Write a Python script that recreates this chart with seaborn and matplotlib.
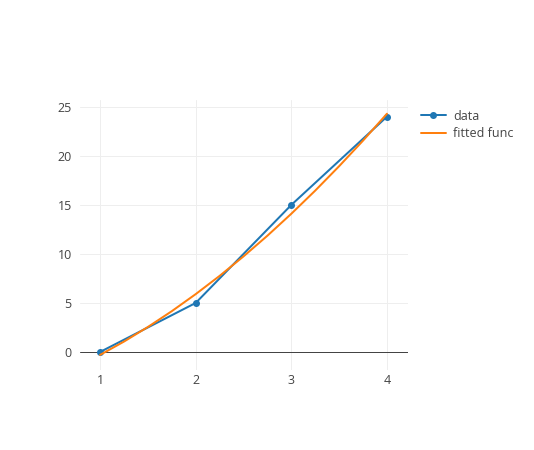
import numpy as np
import pandas as pd
import seaborn as sns
import matplotlib.pyplot as plt

# === Data
data_x = [1, 2, 3, 4]
data_y = [0, 5, 15, 24]

fit_x = [1, 1.25, 1.5, 1.75, 2, 2.25, 2.5, 2.75, 3, 3.25, 3.5, 3.75, 4]
fit_y = [-0.3, 1.06, 2.55, 4.16, 5.9, 7.76, 9.75, 11.86, 14.1, 16.46, 18.95, 21.56, 24.3]

x_ticks = [1, 2, 3, 4]
y_ticks = [0, 5, 10, 15, 20, 25]

df_data = pd.DataFrame({"x": data_x, "y": data_y})
df_fit = pd.DataFrame({"x": fit_x, "y": fit_y})

sns.set_style("white")
plt.rcParams["font.family"] = ["Open Sans", "DejaVu Sans"]

W, H = 534, 450
PX = 72 / 100  # points per pixel at dpi=100
fig = plt.figure(figsize=(W / 100, H / 100), dpi=100)
ax = fig.add_axes([80 / W, (H - 370) / H, 328 / W, 270 / H])

sns.lineplot(data=df_data, x="x", y="y", ax=ax, color="#1f77b4", linewidth=2 * PX,
             marker="o", markersize=7 * PX, markeredgewidth=0, label="data", zorder=3)
sns.lineplot(data=df_fit, x="x", y="y", ax=ax, color="#ff7f0e", linewidth=2 * PX,
             label="fitted func", zorder=4)

ax.set_xlim(0.79, 4.22)
ax.set_ylim(-1.84, 25.7)
ax.set_xticks(x_ticks)
ax.set_yticks(y_ticks)
ax.set_xlabel("")
ax.set_ylabel("")
ax.grid(True, color="#eeeeee", linewidth=1 * PX)
ax.set_axisbelow(True)
ax.axhline(0, color="#444444", linewidth=1 * PX, zorder=2)
for s in ax.spines.values():
    s.set_visible(False)
ax.tick_params(axis="both", length=0, labelsize=9, labelcolor="#444444")
ax.tick_params(axis="x", pad=3)
ax.tick_params(axis="y", pad=6)

leg = ax.legend(loc="upper left", bbox_to_anchor=(1.0, 1.01),
                frameon=False, fontsize=9, handlelength=2.0, labelspacing=0.35,
                handletextpad=0.6, borderaxespad=0.6)
for t in leg.get_texts():
    t.set_color("#444444")

plt.savefig("out.png", dpi=100)
